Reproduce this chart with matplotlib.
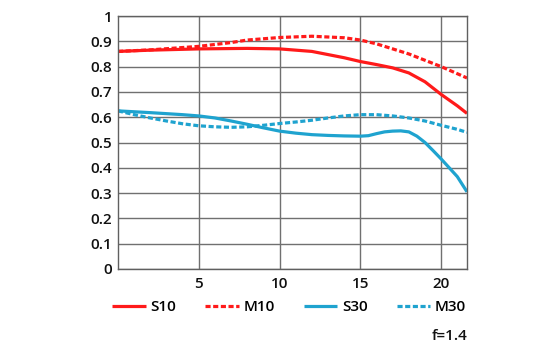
import matplotlib
matplotlib.use("Agg")
import matplotlib.pyplot as plt
import numpy as np

plt.rcParams['font.family'] = ['Open Sans', 'DejaVu Sans']
plt.rcParams['font.weight'] = 'semibold'

x_s10 = [0, 2, 5, 8, 10, 12, 14, 15, 16, 17, 18, 19, 20, 21, 21.6]
s10 = [0.86, 0.865, 0.87, 0.872, 0.87, 0.86, 0.835, 0.82, 0.808, 0.795, 0.775, 0.74, 0.69, 0.645, 0.615]

x_m10 = [0, 2, 5, 7, 8, 10, 12, 14, 15, 16, 17, 18, 19, 20, 21, 21.6]
m10 = [0.86, 0.866, 0.88, 0.895, 0.905, 0.915, 0.92, 0.914, 0.905, 0.89, 0.87, 0.85, 0.825, 0.80, 0.772, 0.755]

x_s30 = [0, 2, 4, 5, 6, 7, 8, 9, 10, 11, 12, 13, 14, 15, 15.5, 16, 16.5, 17, 17.5, 18, 18.5, 19, 19.5, 20, 21, 21.6]
s30 = [0.625, 0.618, 0.61, 0.605, 0.597, 0.585, 0.572, 0.558, 0.545, 0.537, 0.531, 0.528, 0.526, 0.525, 0.527, 0.535, 0.542, 0.545, 0.546, 0.542, 0.525, 0.5, 0.468, 0.435, 0.365, 0.305]

x_m30 = [0, 1, 2, 3, 4, 5, 6, 7, 8, 9, 10, 11, 12, 13, 14, 15, 16, 17, 18, 19, 20, 21, 21.6]
m30 = [0.625, 0.61, 0.597, 0.585, 0.574, 0.566, 0.562, 0.56, 0.562, 0.568, 0.575, 0.581, 0.588, 0.597, 0.605, 0.61, 0.61, 0.605, 0.597, 0.585, 0.568, 0.552, 0.54]

labels = ['S10', 'M10', 'S30', 'M30']
red = '#ff1a1a'
blue = '#1fa3cf'

fig = plt.figure(figsize=(5.6, 3.5), dpi=100)
ax = fig.add_axes([118/560, 1-269/350, (467-118)/560, (269-16)/350])

lw = 2.3
dash = (1.6, 0.8)
ax.plot(x_s10, s10, color=red, lw=lw, label=labels[0], solid_capstyle='butt')
ax.plot(x_m10, m10, color=red, lw=lw, ls=(0, dash), label=labels[1])
ax.plot(x_s30, s30, color=blue, lw=lw, label=labels[2], solid_capstyle='butt')
ax.plot(x_m30, m30, color=blue, lw=lw, ls=(0, dash), label=labels[3])

ax.set_xlim(0, 21.6)
ax.set_ylim(0, 1)
ax.set_xticks([5, 10, 15, 20])
ax.set_yticks(np.arange(0, 1.01, 0.1))
ax.set_yticklabels(['0', '0.1', '0.2', '0.3', '0.4', '0.5', '0.6', '0.7', '0.8', '0.9', '1'])
ax.grid(True, color='#707070', lw=1)
ax.set_axisbelow(True)
for s in ax.spines.values():
    s.set_color('#606060')
    s.set_linewidth(1)
fs = 11
ax.tick_params(length=0, labelsize=fs, colors='#111111')
ax.tick_params(axis='y', pad=4)
ax.tick_params(axis='x', pad=6)

leg = ax.legend(loc='center left', bbox_to_anchor=(112/560, 1-307/350), bbox_transform=fig.transFigure,
                ncol=4, frameon=False, fontsize=fs, handlelength=2.2, handletextpad=0.3,
                columnspacing=1.9, borderaxespad=0, borderpad=0)

fig.text(467/560, 1-336/350, 'f=1.4', ha='right', va='center', fontsize=fs, color='#111111')

fig.savefig('out.png', dpi=100)
